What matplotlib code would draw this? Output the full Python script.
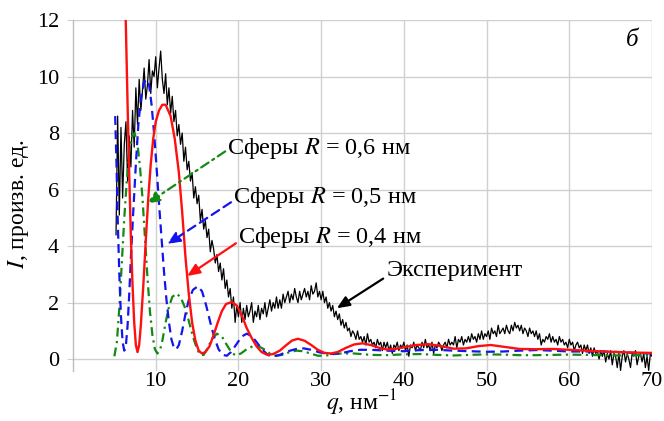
import numpy as np
import matplotlib
matplotlib.use("Agg")
import matplotlib.pyplot as plt

plt.rcParams['font.family'] = ['Liberation Serif', 'DejaVu Serif']
plt.rcParams['mathtext.fontset'] = 'stix'

# Model curves: spheres of radius R (q in nm^-1, intensity in arbitrary units)
sph04_q = [6.3, 6.45, 6.6, 6.8, 7.0, 7.2, 7.4, 7.6, 7.8, 8.0, 8.2, 8.5, 8.8, 9.1, 9.4, 9.7,
           10.0, 10.4, 10.8, 11.2, 11.8, 12.3, 12.8, 13.2, 13.6, 14.0, 14.4, 14.8, 15.2, 15.6,
           16.0, 16.5, 17.0, 17.5, 18.0, 18.5, 19.2, 19.8, 20.4, 21.0, 21.6, 22.2, 22.8, 23.5,
           24.2, 25.0, 25.8, 26.5, 27.2, 28.0, 28.8, 29.6, 30.4, 31.2, 32.0, 33.0, 34.0, 35.0,
           36.0, 37.0, 38.0, 39.0, 40.0, 41.5, 43.0, 44.5, 46.0, 47.5, 49.0, 50.5, 52.0, 54.0,
           56.0, 58.0, 60.0, 62.0, 64.0, 66.0, 68.0, 70.0]
sph04_i = [13.0, 11.0, 9.0, 6.5, 4.3, 2.6, 1.3, 0.5, 0.25, 0.5, 1.2, 2.6, 4.2, 5.7, 6.9, 7.8,
           8.4, 8.8, 9.0, 9.0, 8.6, 7.8, 6.6, 5.2, 3.6, 2.3, 1.3, 0.65, 0.3, 0.2,
           0.25, 0.45, 0.85, 1.3, 1.7, 1.95, 2.02, 1.9, 1.55, 1.1, 0.75, 0.45, 0.25, 0.15,
           0.18, 0.3, 0.5, 0.66, 0.72, 0.65, 0.5, 0.33, 0.22, 0.2, 0.25, 0.4, 0.52, 0.56,
           0.5, 0.4, 0.34, 0.36, 0.42, 0.5, 0.53, 0.46, 0.37, 0.38, 0.46, 0.5, 0.44, 0.36,
           0.35, 0.36, 0.33, 0.3, 0.27, 0.25, 0.23, 0.22]

sph05_q = [5.1, 5.25, 5.4, 5.6, 5.8, 6.0, 6.2, 6.4, 6.6, 6.8, 7.0, 7.3, 7.6, 7.9, 8.2, 8.6,
           8.9, 9.2, 9.5, 9.8, 10.1, 10.4, 10.7, 11.0, 11.3, 11.6, 11.9, 12.2, 12.5, 12.8,
           13.2, 13.6, 14.0, 14.5, 15.1, 15.6, 16.1, 16.6, 17.1, 17.6, 18.1, 18.6, 19.1, 19.7,
           20.4, 21.0, 21.6, 22.2, 22.9, 23.6, 24.3, 25.0, 26.0, 27.0, 27.9, 28.8, 29.8, 31.0,
           32.3, 33.5, 34.7, 36.0, 38.0, 40.0, 42.0, 44.0, 46.0, 48.0, 50.0, 52.0, 54.0, 56.0,
           58.0, 60.0, 62.0, 64.0, 66.0, 68.0, 70.0]
sph05_i = [8.6, 7.0, 5.0, 3.0, 1.5, 0.6, 0.3, 0.5, 1.2, 2.3, 3.6, 5.3, 6.9, 8.3, 9.2, 9.8,
           9.9, 9.7, 9.0, 8.0, 6.8, 5.5, 4.3, 3.1, 2.1, 1.3, 0.7, 0.4, 0.35, 0.5,
           1.0, 1.6, 2.1, 2.45, 2.58, 2.4, 1.9, 1.3, 0.75, 0.35, 0.15, 0.12, 0.25, 0.5,
           0.8, 0.9, 0.82, 0.6, 0.33, 0.14, 0.1, 0.15, 0.28, 0.36, 0.38, 0.33, 0.24, 0.18,
           0.2, 0.28, 0.33, 0.33, 0.3, 0.28, 0.32, 0.33, 0.3, 0.28, 0.26, 0.27, 0.3, 0.32,
           0.3, 0.27, 0.27, 0.27, 0.25, 0.22, 0.2]

sph06_q = [5.0, 5.3, 5.6, 5.9, 6.2, 6.5, 6.8, 7.1, 7.45, 7.8, 8.1, 8.4, 8.7, 9.0, 9.3, 9.6,
           9.9, 10.2, 10.5, 10.8, 11.2, 11.6, 12.0, 12.5, 13.0, 13.5, 14.0, 14.5, 15.0, 15.4,
           15.8, 16.3, 16.8, 17.4, 18.0, 18.6, 19.2, 19.7, 20.3, 21.0, 21.7, 22.4, 23.1, 23.8,
           24.5, 25.3, 26.2, 27.0, 27.8, 28.7, 29.6, 30.5, 31.5, 32.5, 34.0, 36.0, 38.0, 40.0,
           42.0, 44.0, 46.0, 48.0, 50.0, 52.0, 54.0, 56.0, 58.0, 60.0, 62.0, 64.0, 66.0, 68.0,
           70.0]
sph06_i = [0.1, 0.6, 1.8, 3.4, 5.0, 6.3, 7.3, 7.85, 8.0, 7.6, 6.8, 5.7, 4.3, 2.9, 1.7, 0.85,
           0.35, 0.2, 0.3, 0.65, 1.3, 1.85, 2.2, 2.32, 2.2, 1.85, 1.35, 0.8, 0.35, 0.15,
           0.15, 0.4, 0.72, 0.9, 0.8, 0.5, 0.22, 0.13, 0.2, 0.35, 0.45, 0.46, 0.35, 0.2,
           0.12, 0.15, 0.25, 0.3, 0.28, 0.2, 0.12, 0.12, 0.18, 0.2, 0.2, 0.15, 0.14, 0.17,
           0.18, 0.15, 0.13, 0.15, 0.17, 0.16, 0.14, 0.14, 0.15, 0.16, 0.15, 0.14, 0.13, 0.14,
           0.14]

# Measured intensity, sampled every 0.2 nm^-1 from q = 5.2 to 70 (one row per unit of q)
exp_q_start, exp_q_step = 5.2, 0.2
exp_i = [
    4.4, 8.6, 5.1, 8.2,
    5.7, 7.6, 8.4, 6.3, 7.9,
    6.8, 8.8, 7.5, 9.6, 8.3,
    9.9, 8.8, 9.5, 10.3, 9.2,
    9.7, 10.6, 9.4, 10.2, 10.0,
    10.7, 9.6, 10.3, 10.9, 9.9,
    9.4, 10.1, 9.0, 9.6, 8.7,
    9.3, 8.4, 8.8, 7.9, 8.3,
    7.6, 8.0, 7.0, 7.5, 6.7,
    7.0, 6.3, 6.6, 5.7, 6.1,
    5.5, 5.8, 4.9, 5.3, 4.6,
    4.9, 4.3, 4.6, 3.8, 4.2,
    3.9, 3.4, 3.7, 3.1, 3.4,
    2.8, 3.2, 2.5, 2.8, 2.2,
    2.5, 1.8, 2.2, 1.3, 1.9,
    1.5, 2.0, 1.3, 1.8, 1.4,
    1.9, 1.5, 1.7, 2.0, 1.3,
    1.7, 1.5, 1.9, 1.4, 1.8,
    1.6, 2.0, 1.5, 1.8, 2.1,
    1.7, 2.0, 1.8, 2.2, 1.8,
    2.1, 1.8, 2.3, 2.0, 2.2,
    2.4, 2.0, 2.3, 2.1, 2.5,
    2.2, 2.0, 2.4, 2.1, 2.3,
    2.5, 2.2, 2.4, 2.1, 2.6,
    2.3, 2.4, 2.7, 2.2, 2.4,
    2.1, 2.4, 2.0, 2.2, 1.8,
    2.0, 1.7, 1.9, 1.5, 1.7,
    1.4, 1.6, 1.2, 1.4, 1.1,
    1.3, 1.0, 1.1, 0.8, 1.0,
    0.9, 0.7, 1.0, 0.7, 0.8,
    0.6, 0.8, 0.5, 0.9, 0.6,
    0.7, 0.5, 0.6, 0.4, 0.7,
    0.5, 0.6, 0.3, 0.6, 0.4,
    0.6, 0.3, 0.5, 0.2, 0.5,
    0.4, 0.6, 0.3, 0.5, 0.4,
    0.6, 0.3, 0.5, 0.1, 0.5,
    0.4, 0.6, 0.3, 0.5, 0.4,
    0.3, 0.6, 0.4, 0.7, 0.4,
    0.5, 0.3, 0.6, 0.2, 0.5,
    0.4, 0.6, 0.5, 0.3, 0.5,
    0.6, 0.4, 0.7, 0.5, 0.6,
    0.5, 0.8, 0.4, 0.7, 0.6,
    0.8, 0.5, 0.7, 0.6, 0.8,
    0.6, 0.9, 0.7, 0.8, 0.6,
    0.9, 0.7, 1.0, 0.7, 0.9,
    0.8, 1.0, 0.7, 1.1, 0.9,
    1.0, 0.8, 1.2, 0.9, 1.0,
    1.1, 0.9, 1.2, 1.0, 0.9,
    1.2, 1.0, 1.3, 1.1, 1.2,
    1.0, 1.2, 0.9, 1.1, 1.0,
    0.8, 1.1, 0.9, 1.0, 0.8,
    1.0, 0.7, 0.9, 0.5, 0.7,
    0.6, 0.8, 0.7, 0.9, 0.6,
    0.8, 0.6, 0.7, 0.5, 0.8,
    0.6, 0.7, 0.5, 0.6, 0.4,
    0.7, 0.5, 0.6, 0.3, 0.5,
    0.6, 0.4, 0.5, 0.2, 0.5,
    0.3, 0.5, 0.2, 0.4, 0.1,
    0.4, 0.2, 0.3, 0.0, 0.3,
    0.1, 0.3, -0.1, 0.2, 0.0,
    0.3, -0.2, 0.2, 0.1, -0.3,
    0.2, -0.4, 0.1, 0.3, -0.1,
    0.2, 0.0, -0.3, 0.2, 0.1,
    0.3, -0.2, 0.1, 0.2, -0.1,
    0.2, -0.3, 0.1, -0.4, 0.2,
    0.1,
]
exp_q = exp_q_start + exp_q_step * np.arange(len(exp_i))

x_ticks = [10, 20, 30, 40, 50, 60, 70]
y_ticks = [0, 2, 4, 6, 8, 10, 12]

labels = {
    'sph06': 'Сферы $R$ = 0,6 нм',
    'sph05': 'Сферы $R$ = 0,5 нм',
    'sph04': 'Сферы $R$ = 0,4 нм',
    'exp': 'Эксперимент',
}

fig = plt.figure(figsize=(6.64, 4.21), dpi=100)
ax = fig.add_axes([73 / 664, 1 - 371 / 421, 579 / 664, 351 / 421])

grid_c = '#d0d0d0'
ax.set_xlim(0, 70)
ax.set_ylim(-0.42, 12)
ax.set_xticks(x_ticks)
ax.set_yticks(y_ticks)
ax.grid(True, color=grid_c, lw=1.0)
ax.set_axisbelow(True)
for s in ('top', 'right', 'bottom'):
    ax.spines[s].set_visible(False)
ax.spines['left'].set_color('#bdbdbd')
ax.spines['left'].set_linewidth(1.0)
ax.tick_params(axis='y', length=4, color=grid_c, labelsize=16, pad=6)
ax.tick_params(axis='x', length=0, labelsize=16, pad=1)

ax.plot(exp_q, exp_i, color='black', lw=0.9, zorder=2)
ax.plot(sph06_q, sph06_i, color='#148a14', lw=1.6, dashes=(4, 2, 1, 2), zorder=3)
ax.plot(sph05_q, sph05_i, color='#1414ee', lw=1.6, dashes=(4, 2.4), zorder=4)
ax.plot(sph04_q, sph04_i, color='#ff1010', lw=1.7, zorder=5)

def label_arrow(text, xy_text, xy_tail, xy_tip, color, ls):
    ax.text(*xy_text, text, fontsize=17.5, va='center', ha='left', zorder=6)
    ax.annotate('', xy=xy_tip, xytext=xy_tail,
                arrowprops=dict(arrowstyle='-|>,head_length=0.75,head_width=0.32',
                                color=color, lw=1.6, linestyle=ls,
                                shrinkA=0, shrinkB=0), zorder=6)

label_arrow(labels['sph06'], (18.6, 7.45), (18.4, 7.35), (8.95, 5.5), '#148a14', (0, (4, 2, 1, 2)))
label_arrow(labels['sph05'], (19.3, 5.72), (19.1, 5.55), (11.4, 4.07), '#1414ee', (0, (4, 2.4)))
label_arrow(labels['sph04'], (19.95, 4.3), (19.7, 4.1), (13.8, 2.94), '#ff1010', '-')
label_arrow(labels['exp'], (37.9, 3.15), (37.5, 2.85), (31.9, 1.8), 'black', '-')

ax.text(67.6, 11.3, 'б', fontsize=18, fontstyle='italic', ha='center', va='center')

fig.text(19 / 664, 1 - 204 / 421, '$I$, произв. ед.', rotation=90, fontsize=17,
         ha='center', va='center')
fig.text(362 / 664, 3 / 421, '$q$, нм$^{-1}$', fontsize=17, ha='center', va='bottom')

fig.savefig('out.png', dpi=100)
